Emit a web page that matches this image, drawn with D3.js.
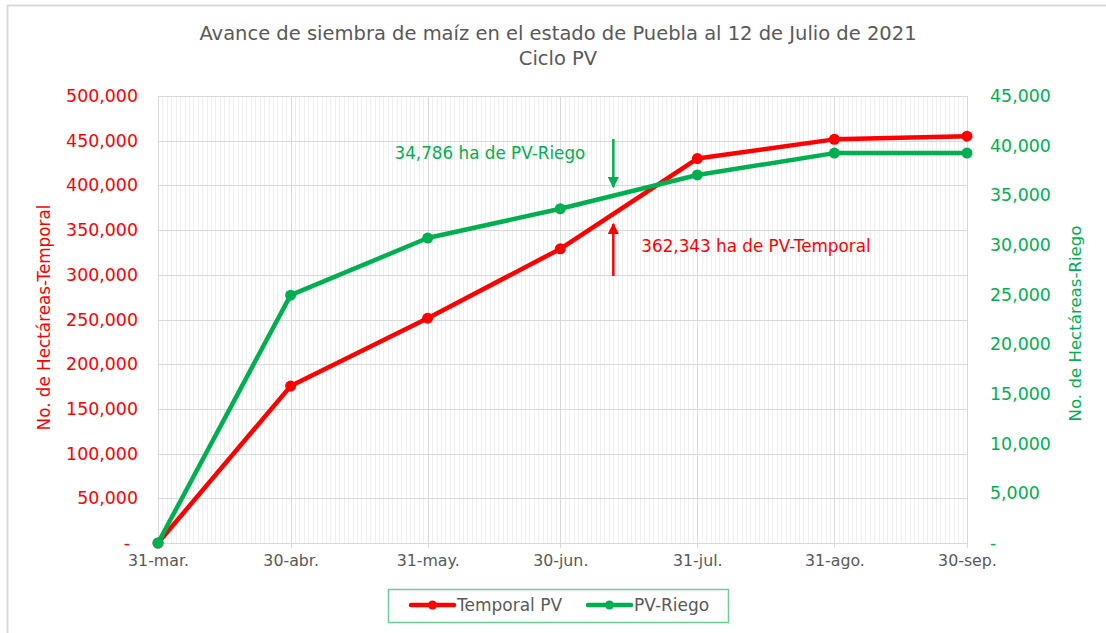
<!DOCTYPE html>
<meta charset="utf-8">
<style>
body { margin: 0; background: #fff; }
text { font-family: "DejaVu Sans", sans-serif; }
.grid line { shape-rendering: crispEdges; }
</style>
<body>
<script src="https://cdn.jsdelivr.net/npm/d3@7/dist/d3.min.js"></script>
<script>

// ---- data ----
var fechas = ["2021-03-31", "2021-04-30", "2021-05-31", "2021-06-30", "2021-07-31", "2021-08-31", "2021-09-30"];
var etiquetas = ["31-mar.", "30-abr.", "31-may.", "30-jun.", "31-jul.", "31-ago.", "30-sep."];
var temporal = [0, 175500, 251500, 329000, 430000, 451500, 455000];
var riego = [0, 24950, 30700, 33650, 37050, 39250, 39250];
var fechaCorte = "2021-07-12";
var ticksIzq = [0, 50000, 100000, 150000, 200000, 250000, 300000, 350000, 400000, 450000, 500000];
var ticksDer = [0, 5000, 10000, 15000, 20000, 25000, 30000, 35000, 40000, 45000];

var rojo = "#ff0000", verde = "#00b050", gris = "#595959";

var W = 1106, H = 633;
var margin = {top: 96, right: 139, bottom: 90, left: 158};
var width = W - margin.left - margin.right,
    height = H - margin.top - margin.bottom;

var parse = d3.utcParse("%Y-%m-%d");
var dias = fechas.map(parse);

var x = d3.scaleUtc().domain([dias[0], dias[dias.length - 1]]).range([0, width]);
var yL = d3.scaleLinear().domain([0, 500000]).range([height, 0]);
var yR = d3.scaleLinear().domain([0, 45000]).range([height, 0]);

var fmt = function(d) { return d === 0 ? "-" : d3.format(",")(d); };

var svg = d3.select("body").append("svg")
    .attr("width", W)
    .attr("height", H);

// outer frame
svg.append("rect")
    .attr("x", 7.5).attr("y", 5.5)
    .attr("width", W + 20).attr("height", H + 20)
    .attr("fill", "none")
    .attr("stroke", "#d9d9d9")
    .attr("stroke-width", 2);

// title
svg.append("text")
    .attr("x", 558).attr("y", 40)
    .attr("text-anchor", "middle")
    .attr("fill", gris)
    .style("font-size", "19.5px")
    .text("Avance de siembra de maíz en el estado de Puebla al 12 de Julio de 2021");
svg.append("text")
    .attr("x", 558).attr("y", 65)
    .attr("text-anchor", "middle")
    .attr("fill", gris)
    .style("font-size", "19.5px")
    .text("Ciclo PV");

var g = svg.append("g")
    .attr("transform", "translate(" + margin.left + "," + margin.top + ")");

// minor daily grid
g.append("g")
    .attr("class", "grid")
    .selectAll("line")
    .data(d3.utcDay.range(dias[0], d3.utcDay.offset(dias[dias.length - 1], 1)))
    .enter().append("line")
    .attr("x1", function(d) { return Math.round(x(d)) + 0.5; })
    .attr("x2", function(d) { return Math.round(x(d)) + 0.5; })
    .attr("y1", 0).attr("y2", height)
    .attr("stroke", "#efefef");

// horizontal grid
g.append("g")
    .attr("class", "grid")
    .selectAll("line")
    .data(ticksIzq)
    .enter().append("line")
    .attr("x1", 0).attr("x2", width)
    .attr("y1", function(d) { return Math.round(yL(d)) + 0.5; })
    .attr("y2", function(d) { return Math.round(yL(d)) + 0.5; })
    .attr("stroke", "#d9d9d9");

// major vertical grid
g.append("g")
    .attr("class", "grid")
    .selectAll("line")
    .data(dias)
    .enter().append("line")
    .attr("x1", function(d) { return Math.round(x(d)) + 0.5; })
    .attr("x2", function(d) { return Math.round(x(d)) + 0.5; })
    .attr("y1", 0).attr("y2", height + 5)
    .attr("stroke", "#d9d9d9");

// axes
var ax = g.append("g")
    .attr("transform", "translate(0," + height + ")")
    .call(d3.axisBottom(x).tickValues(dias).tickSize(0).tickPadding(12)
      .tickFormat(function(d, i) { return etiquetas[i]; }));
ax.select(".domain").remove();
ax.selectAll("text").attr("fill", gris).style("font-size", "15.8px");

var al = g.append("g")
    .call(d3.axisLeft(yL).tickValues(ticksIzq).tickSize(0).tickPadding(20).tickFormat(fmt));
al.select(".domain").remove();
al.selectAll("text").attr("fill", rojo).style("font-size", "17.4px");
al.selectAll(".tick").filter(function(d) { return d === 0; }).select("text").attr("dx", -8);

var ar = g.append("g")
    .attr("transform", "translate(" + width + ",0)")
    .call(d3.axisRight(yR).tickValues(ticksDer).tickSize(0).tickPadding(23).tickFormat(fmt));
ar.select(".domain").remove();
ar.selectAll("text").attr("fill", verde).style("font-size", "17.4px");

// axis titles
svg.append("text")
    .attr("transform", "translate(50," + (margin.top + height / 2 - 2) + ") rotate(-90)")
    .attr("text-anchor", "middle")
    .attr("fill", rojo)
    .style("font-size", "16.8px")
    .text("No. de Hectáreas-Temporal");
svg.append("text")
    .attr("transform", "translate(1081," + (margin.top + height / 2 + 4) + ") rotate(-90)")
    .attr("text-anchor", "middle")
    .attr("fill", verde)
    .style("font-size", "16.6px")
    .text("No. de Hectáreas-Riego");

// lines
var series = [
  {valores: temporal, y: yL, color: rojo},
  {valores: riego, y: yR, color: verde}
];
series.forEach(function(s) {
  var pts = dias.map(function(d, i) { return [d, s.valores[i]]; });
  g.append("path")
      .datum(pts)
      .attr("fill", "none")
      .attr("stroke", s.color)
      .attr("stroke-width", 4.5)
      .attr("stroke-linejoin", "round")
      .attr("d", d3.line().x(function(d) { return x(d[0]); }).y(function(d) { return s.y(d[1]); }));
  g.selectAll(null)
      .data(pts)
      .enter().append("circle")
      .attr("cx", function(d) { return x(d[0]); })
      .attr("cy", function(d) { return s.y(d[1]); })
      .attr("r", 5.5)
      .attr("fill", s.color);
});

// annotations at cut date
var xc = x(parse(fechaCorte));
svg.append("defs").selectAll("marker")
    .data([["flechaV", verde], ["flechaR", rojo]])
    .enter().append("marker")
    .attr("id", function(d) { return d[0]; })
    .attr("viewBox", "0 0 10 10")
    .attr("refX", 9).attr("refY", 5)
    .attr("markerWidth", 4.5).attr("markerHeight", 4.5)
    .attr("orient", "auto")
    .attr("markerUnits", "strokeWidth")
  .append("path")
    .attr("d", "M0,0L10,5L0,10z")
    .attr("fill", function(d) { return d[1]; });

g.append("line")
    .attr("x1", xc).attr("x2", xc)
    .attr("y1", 43).attr("y2", 91)
    .attr("stroke", verde).attr("stroke-width", 2.5)
    .attr("marker-end", "url(#flechaV)");
g.append("line")
    .attr("x1", xc).attr("x2", xc)
    .attr("y1", 180).attr("y2", 128)
    .attr("stroke", rojo).attr("stroke-width", 2.5)
    .attr("marker-end", "url(#flechaR)");

g.append("text")
    .attr("x", xc - 28).attr("y", 63)
    .attr("text-anchor", "end")
    .attr("fill", verde)
    .style("font-size", "16.8px")
    .text("34,786 ha de PV-Riego");
g.append("text")
    .attr("x", xc + 28).attr("y", 156)
    .attr("fill", rojo)
    .style("font-size", "16.8px")
    .text("362,343 ha de PV-Temporal");

// legend
var lg = svg.append("g").attr("transform", "translate(388,589)");
lg.append("rect")
    .attr("x", 0.5).attr("y", 0.5)
    .attr("width", 340).attr("height", 33)
    .attr("fill", "#fff")
    .attr("stroke", "#6ccf95")
    .attr("stroke-width", 1.5);
var items = lg.selectAll("g.item")
    .data([["Temporal PV", rojo, 23], ["PV-Riego", verde, 200]])
    .enter().append("g")
    .attr("transform", function(d) { return "translate(" + d[2] + ",16)"; });
items.append("line")
    .attr("x1", 0).attr("x2", 43)
    .attr("stroke", function(d) { return d[1]; })
    .attr("stroke-width", 4.5)
    .attr("stroke-linecap", "round");
items.append("circle")
    .attr("cx", 21.5).attr("r", 4.5)
    .attr("fill", function(d) { return d[1]; });
items.append("text")
    .attr("x", 46).attr("dy", "0.35em")
    .attr("fill", gris)
    .style("font-size", "17px")
    .text(function(d) { return d[0]; });

</script>
</body>
